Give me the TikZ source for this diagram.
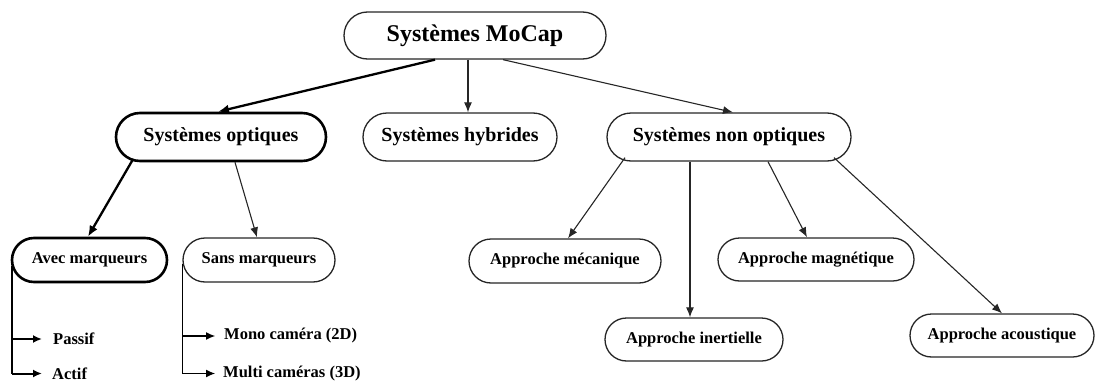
\documentclass[tikz,border=0pt]{standalone}
\usepackage{fontspec}
\setmainfont{Liberation Serif}
\usetikzlibrary{shapes.misc,arrows.meta}

\tikzset{
  pill/.style={rounded rectangle, draw=black!85, line width=1.3pt, fill=white,
    inner sep=0pt, font=\bfseries\fontsize{16.5}{19}\selectfont},
  pillbig/.style={pill, font=\bfseries\fontsize{20}{24}\selectfont},
  thickbox/.style={line width=2.6pt, draw=black},
  label/.style={inner sep=0pt, anchor=west, font=\bfseries\fontsize{16.5}{19}\selectfont},
  thin/.style={line width=1.1pt, draw=black!85, -{Latex[length=10pt,width=8pt]}},
  heavy/.style={line width=2.3pt, draw=black, -{Latex[length=11pt,width=9pt]}},
  branch/.style={line width=1.1pt, -{Latex[length=9pt,width=8pt]}},
}

\begin{document}
\begin{tikzpicture}[x=1pt,y=-1pt]
\useasboundingbox (0,0) rectangle (1096,383);

% root
\node[pill, minimum width=262pt, minimum height=47pt,
      font=\bfseries\fontsize{24}{28}\selectfont] (mocap) at (475,35.5) {Systèmes MoCap};

% second level
\node[pillbig, thickbox, minimum width=210pt, minimum height=48pt] (opt) at (221,137) {Systèmes optiques};
\node[pillbig, minimum width=194pt, minimum height=48pt] (hyb) at (460,137) {Systèmes hybrides};
\node[pillbig, minimum width=244pt, minimum height=48pt] (nonopt) at (729,137) {Systèmes non optiques};

% optical branch
\node[pill, thickbox, minimum width=155pt, minimum height=44pt] (avec) at (89.5,260) {Avec marqueurs};
\node[pill, minimum width=152pt, minimum height=44pt] (sans) at (259,260) {Sans marqueurs};

\node[label] (passif) at (53,339) {Passif};
\node[label] (actif) at (52,373.5) {Actif};
\node[label] (mono) at (224,336) {Mono caméra (2D)};
\node[label] (multi) at (223,373.5) {Multi caméras (3D)};

% non-optical branch
\node[pill, minimum width=192pt, minimum height=44pt] (meca) at (565,261) {Approche mécanique};
\node[pill, minimum width=196pt, minimum height=43pt] (magn) at (816,259.5) {Approche magnétique};
\node[pill, minimum width=178pt, minimum height=43pt] (iner) at (694,339.5) {Approche inertielle};
\node[pill, minimum width=184pt, minimum height=43pt] (acou) at (1002,335.5) {Approche acoustique};

% connectors from the root
\draw[heavy] ([xshift=-40pt]mocap.south) -- ([xshift=-3pt]opt.north);
\draw[thin] ([xshift=-7pt]mocap.south) -- ([xshift=8pt]hyb.north);
\draw[thin] ([xshift=28pt]mocap.south) -- ([xshift=4pt]nonopt.north);

% optical systems
\draw[heavy] ([xshift=-88pt,yshift=3pt]opt.south) -- ([xshift=-1.5pt]avec.north);
\draw[thin] ([xshift=14pt]opt.south) -- ([xshift=-2pt]sans.north);

% non-optical systems
\draw[thin] ([xshift=-104pt,yshift=4pt]nonopt.south) -- ([xshift=3pt]meca.north);
\draw[thin] ([xshift=-39pt]nonopt.south) -- ([xshift=-4pt]iner.north);
\draw[thin] ([xshift=39pt]nonopt.south) -- ([xshift=-9pt]magn.north);
\draw[thin] ([xshift=105pt,yshift=4pt]nonopt.south) -- (acou.north);

% marker types
\draw[line width=2.2pt] ([xshift=1pt,yshift=-6pt]avec.west) -- ([xshift=1pt]avec.west |- actif.west);
\draw[branch, line width=2pt] ([xshift=1pt]avec.west |- passif.west) -- ([xshift=-11pt]passif.west);
\draw[branch, line width=2pt] ([xshift=1pt]avec.west |- actif.west) -- ([xshift=-10pt]actif.west);

% markerless types
\draw[line width=1.1pt] ([xshift=0.5pt,yshift=-4pt]sans.west) -- ([xshift=0.5pt]sans.west |- multi.west);
\draw[branch] ([xshift=0.5pt]sans.west |- mono.west) -- ([xshift=-9pt]mono.west);
\draw[branch] ([xshift=0.5pt]sans.west |- multi.west) -- ([xshift=-8pt]multi.west);
\end{tikzpicture}
\end{document}
